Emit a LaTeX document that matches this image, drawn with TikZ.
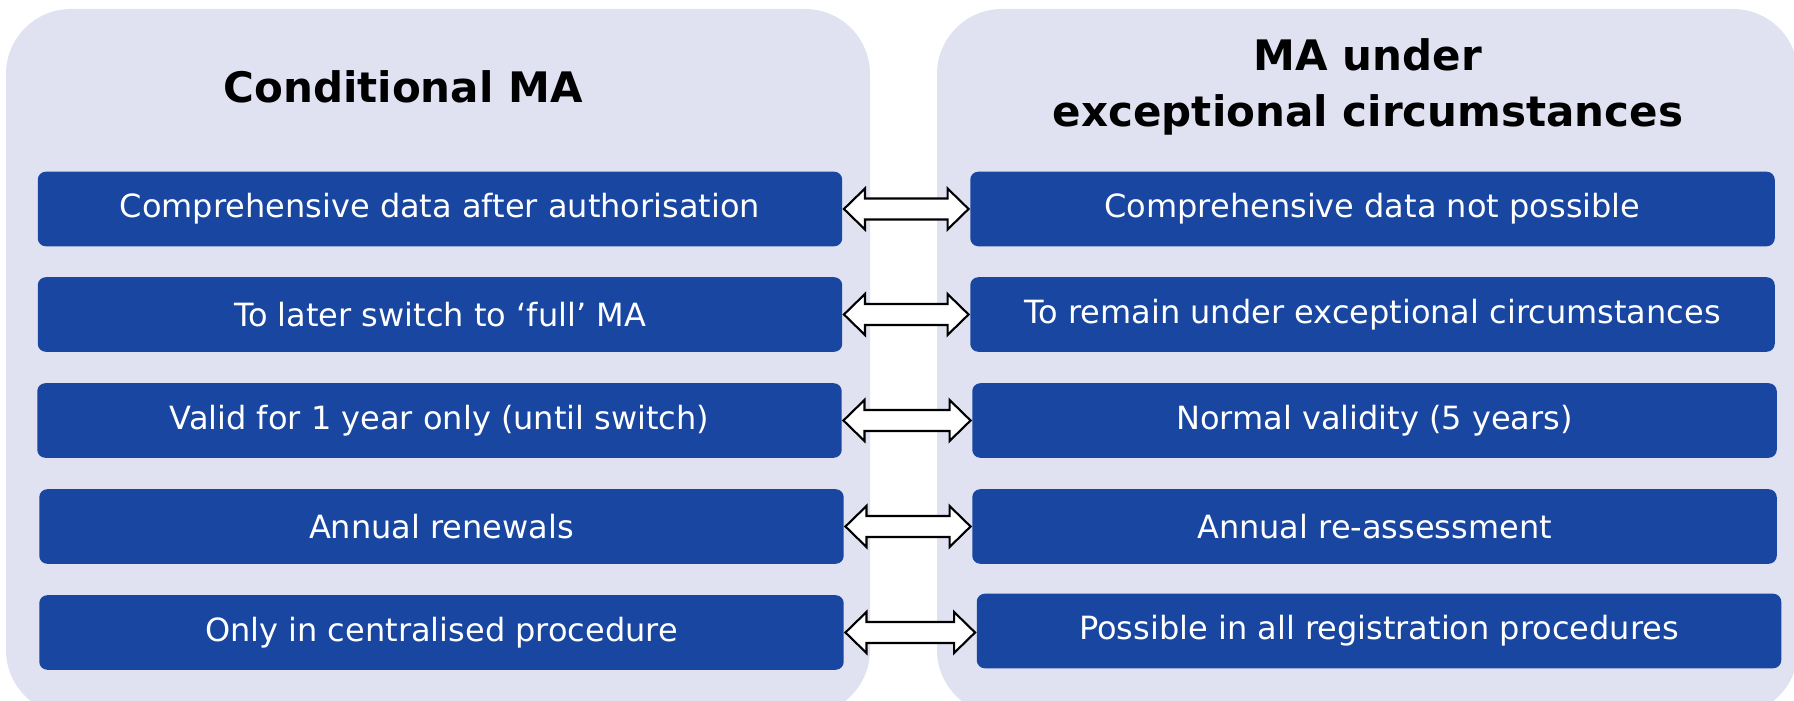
\documentclass[tikz,border=0pt]{standalone}
\usepackage{fontspec}
\setmainfont{DejaVu Sans}
\usepackage{xcolor}
\usepackage{tikz}
\usetikzlibrary{calc}
\definecolor{panelbg}{RGB}{224,226,242}
\definecolor{itemblue}{RGB}{24,70,160}
\tikzset{
  % background panel
  panel/.style={fill=panelbg, rounded corners=0.65cm},
  % blue item box
  item/.style={
    fill=itemblue,
    text=white,
    rounded corners=0.08cm,
    minimum width=8.04cm,
    minimum height=0.745cm,
    inner sep=0pt,
    font=\fontsize{9.1}{10.8}\selectfont
  },
  % panel heading
  heading/.style={font=\fontsize{11.95}{16.2}\selectfont\bfseries, align=center},
  % white block arrow
  dblarr/.style={draw=black, fill=white, line width=0.6pt, line join=miter},
}
% double block arrow between two nodes
\newcommand{\blockarrow}[2]{%
  \draw[dblarr] let \p1=([xshift=0.01cm]#1.east), \p2=([xshift=-0.01cm]#2.west) in
    (\x1,\y1) -- (\x1+0.21cm,\y1+0.205cm) -- (\x1+0.21cm,\y1+0.105cm)
    -- (\x2-0.21cm,\y1+0.105cm) -- (\x2-0.21cm,\y1+0.205cm) -- (\x2,\y1)
    -- (\x2-0.21cm,\y1-0.205cm) -- (\x2-0.21cm,\y1-0.105cm)
    -- (\x1+0.21cm,\y1-0.105cm) -- (\x1+0.21cm,\y1-0.205cm) -- cycle;}

\begin{document}
\begin{tikzpicture}[x=0.01cm, y=-0.01cm]
    \clip (0,0) rectangle (1794,701);

    % Panels
    \fill[panel] (6,9) rectangle (870,715);
    \fill[panel] (937,9) rectangle (1798,715);

    \node[heading, anchor=base] (condtitle) at (403,103) {Conditional MA};
    \node[heading, anchor=base] (exctitle) at (1368,127) {MA under\\exceptional circumstances};

    % Left column
    \node[item] (c1) at (440,209) {Comprehensive data after authorisation};
    \node[item] (c2) at (440,314.5) {To later switch to ‘full’ MA};
    \node[item] (c3) at (439.5,420.5) {Valid for 1 year only (until switch)};
    \node[item] (c4) at (441.5,526.5) {Annual renewals};
    \node[item] (c5) at (441.5,632.5) {Only in centralised procedure};

    % Right column
    \node[item] (e1) at (1372.5,209) {Comprehensive data not possible};
    \node[item] (e2) at (1372.5,314.5) {To remain under exceptional circumstances};
    \node[item] (e3) at (1374.5,420.5) {Normal validity (5 years)};
    \node[item] (e4) at (1374.5,526.5) {Annual re-assessment};
    \node[item] (e5) at (1379,631) {Possible in all registration procedures};

    % Arrows
    \foreach \i in {1,...,5}
        \blockarrow{c\i}{e\i};
\end{tikzpicture}
\end{document}
